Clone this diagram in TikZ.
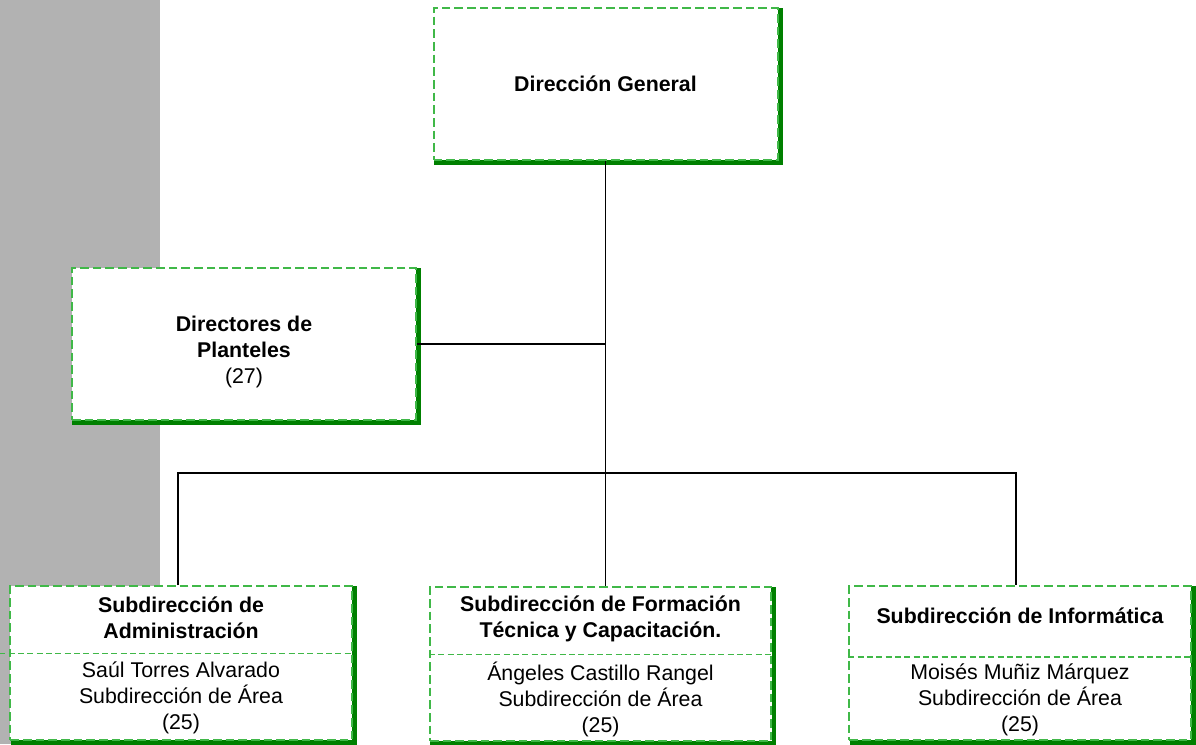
\documentclass[tikz,border=0pt]{standalone}
\usepackage{fontspec}
\setmainfont{Liberation Sans}
\usetikzlibrary{positioning}

\definecolor{boxgreen}{RGB}{64,184,72}
\definecolor{shadegreen}{RGB}{0,128,0}
\definecolor{bargray}{RGB}{178,178,178}

\tikzset{
  orgbox/.style={draw=boxgreen, line width=1.5pt, dash pattern=on 6.5pt off 3pt,
    fill=white, inner sep=0pt, minimum width=258pt, minimum height=114pt,
    font=\fontsize{16}{19.5}\selectfont, align=center,
    preaction={draw=shadegreen, solid, line width=3.5pt,
      transform canvas={shift={(2pt,-2pt)}}}},
  subbox/.style={orgbox, minimum width=256pt, minimum height=115.5pt},
  boxtext/.style={inner sep=0pt, align=center, font=\fontsize{16}{19.5}\selectfont},
  divider/.style={draw=boxgreen, line width=0.9pt, dash pattern=on 4.5pt off 2.5pt},
  link/.style={draw=black, line width=1.2pt}
}

\begin{document}
\begin{tikzpicture}[x=0.75pt, y=-0.75pt]
\useasboundingbox (0,0) rectangle (1196,744);
\fill [bargray] (0,0) rectangle (160,744);

% boxes
\node [orgbox] (dg) at (605.5,84) {\textbf{Dirección General}};
\node [orgbox] (dp) at (244,344) {};
\node [boxtext] (dp-t) at ([yshift=-6pt]dp.center) {\textbf{Directores de}\\\textbf{Planteles}\\(27)};
\node [subbox] (sa) at (181,663) {};
\node [subbox] (sf) at (600.5,664) {};
\node [subbox] (si) at (1020,663) {};

% box texts
\node [boxtext] (sa-t) at ([yshift=-24.5pt]sa.north) {\textbf{Subdirección de}\\\textbf{Administración}};
\node [boxtext] (sa-d) at ([yshift=-85pt]sa.north) {Saúl Torres Alvarado\\Subdirección de Área\\(25)};
\node [boxtext] (sf-t) at ([yshift=-24.5pt]sf.north) {\textbf{Subdirección de Formación}\\\textbf{Técnica y Capacitación.}};
\node [boxtext] (sf-d) at ([yshift=-85pt]sf.north) {Ángeles Castillo Rangel\\Subdirección de Área\\(25)};
\node [boxtext] (si-t) at ([yshift=-23pt]si.north) {\textbf{Subdirección de Informática}};
\node [boxtext] (si-d) at ([yshift=-86pt]si.north) {Moisés Muñiz Márquez\\Subdirección de Área\\(25)};

\draw [divider] ([xshift=-7.5pt,yshift=-51.5pt]sa.north west) -- ([yshift=-51.5pt]sa.north east);
\draw [divider] ([yshift=-51.5pt]sf.north west) -- ([yshift=-51.5pt]sf.north east);
\draw [divider] ([yshift=-54pt]si.north west) -- ([yshift=-54pt]si.north east);

% connectors
\coordinate (bus) at (605.5,473);
\draw [link] (dg.south) -- (dg.south |- sf.north);
\draw [link] (dp.east) -- (dp.east -| bus);
\draw [link] ([xshift=-2.25pt]sa.north) |- (bus) -| ([xshift=-3pt]si.north);
\end{tikzpicture}
\end{document}
